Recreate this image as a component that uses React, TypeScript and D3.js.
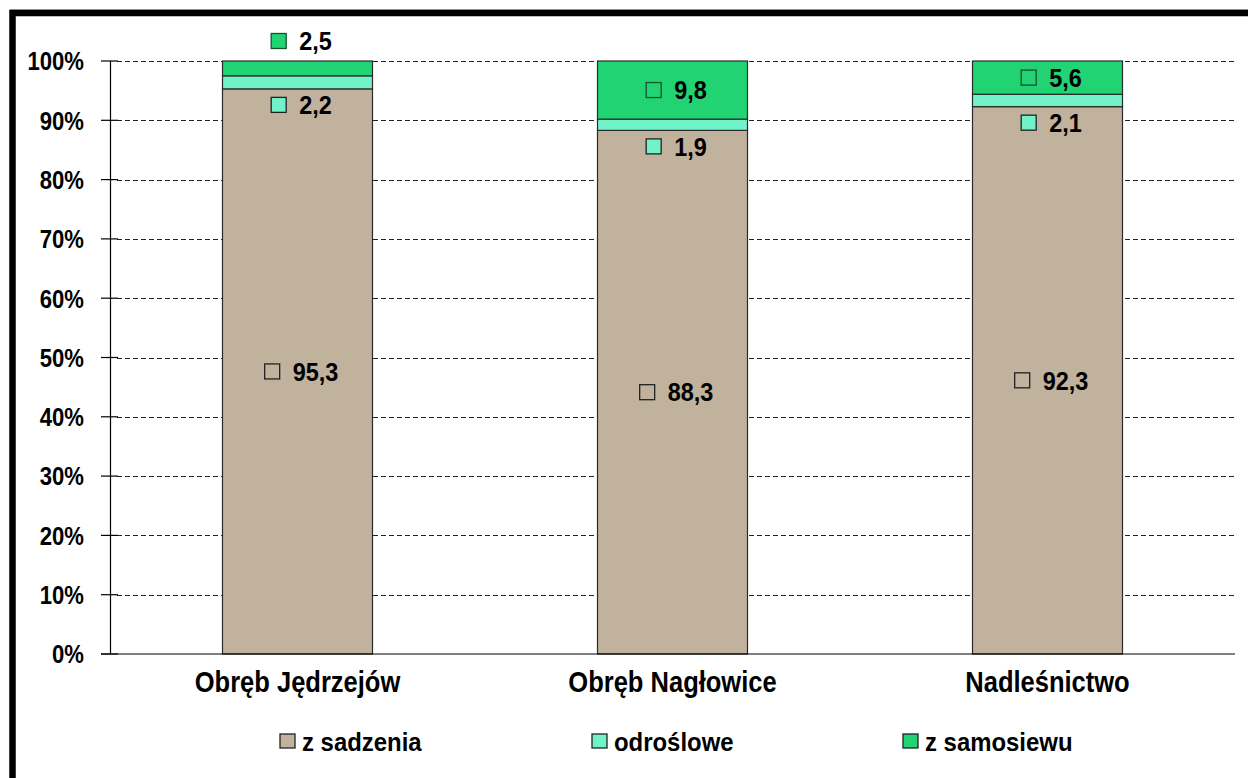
import React, { useEffect, useRef } from "react";
import * as d3 from "d3";

const categories = ["Obręb Jędrzejów", "Obręb Nagłowice", "Nadleśnictwo"];
const seriesNames = ["z sadzenia", "odroślowe", "z samosiewu"];
const zSadzenia = [95.3, 88.3, 92.3];
const odroslowe = [2.2, 1.9, 2.1];
const zSamosiewu = [2.5, 9.8, 5.6];
const yTicks = [0, 10, 20, 30, 40, 50, 60, 70, 80, 90, 100];
const colors = ["#C0B29C", "#72F2C9", "#22D373"];

const FONT = "'Liberation Sans', Arial, Helvetica, sans-serif";

export default function App() {
  const svgRef = useRef<SVGSVGElement | null>(null);

  useEffect(() => {
    if (!svgRef.current) return;
    const svg = d3.select(svgRef.current);
    svg.selectAll("*").remove();

    const width = 1248;
    const height = 778;

    const x = d3
      .scaleBand<string>()
      .domain(categories)
      .range([110, 1235])
      .paddingInner(0.6)
      .paddingOuter(0.3);
    const y = d3.scaleLinear().domain([0, 100]).range([654, 61]);

    const rows = categories.map((c, i) => ({
      cat: c,
      [seriesNames[0]]: zSadzenia[i],
      [seriesNames[1]]: odroslowe[i],
      [seriesNames[2]]: zSamosiewu[i],
    }));
    const stack = d3.stack<any>().keys(seriesNames);
    const layers = stack(rows);

    // condensed-looking bold text: scaled horizontally around its anchor
    const label = (
      parent: d3.Selection<any, any, any, any>,
      tx: number,
      ty: number,
      txt: string,
      size: number,
      sx: number,
      anchor = "start"
    ) =>
      parent
        .append("text")
        .attr("transform", `translate(${tx},${ty}) scale(${sx},1)`)
        .attr("text-anchor", anchor)
        .attr("font-family", FONT)
        .attr("font-weight", "bold")
        .attr("font-size", size)
        .attr("fill", "#000")
        .text(txt);

    svg.append("rect").attr("width", width).attr("height", height).attr("fill", "#fff");

    // grid lines
    svg
      .append("g")
      .selectAll("line")
      .data(yTicks.filter((t) => t > 0))
      .join("line")
      .attr("x1", 117)
      .attr("x2", 1235)
      .attr("y1", (d) => Math.round(y(d)) + 0.5)
      .attr("y2", (d) => Math.round(y(d)) + 0.5)
      .attr("stroke", "#222")
      .attr("stroke-width", 1)
      .attr("stroke-dasharray", "5,3");

    // bars
    layers.forEach((layer, li) => {
      svg
        .append("g")
        .selectAll("rect")
        .data(layer)
        .join("rect")
        .attr("x", (d) => x(d.data.cat)!)
        .attr("width", x.bandwidth())
        .attr("y", (d) => y(d[1]))
        .attr("height", (d) => y(d[0]) - y(d[1]))
        .attr("fill", colors[li])
        .attr("stroke", "#2a2a2a")
        .attr("stroke-width", 1.2);
    });

    // axes
    const axis = svg.append("g").attr("stroke", "#000").attr("stroke-width", 1.2);
    axis.append("line").attr("x1", 110.5).attr("x2", 110.5).attr("y1", y(100)).attr("y2", y(0));
    axis.append("line").attr("x1", 101).attr("x2", 1235).attr("y1", y(0)).attr("y2", y(0));
    axis
      .selectAll("line.tick")
      .data(yTicks)
      .join("line")
      .attr("class", "tick")
      .attr("x1", 101)
      .attr("x2", 118)
      .attr("y1", (d) => y(d))
      .attr("y2", (d) => y(d));

    const yLabels = svg.append("g");
    yTicks.forEach((t) => {
      label(yLabels, 84, y(t), `${t}%`, 26, 0.85, "end").attr("dy", "0.36em");
    });

    const xLabels = svg.append("g");
    categories.forEach((c) => {
      label(xLabels, x(c)! + x.bandwidth() / 2, 692, c, 29, 0.88, "middle");
    });

    // data labels: legend key + value
    const fmt = (v: number) => v.toFixed(1).replace(".", ",");
    const dSize = 25.5;
    const dSx = 0.92;
    layers.forEach((layer, li) => {
      layer.forEach((d) => {
        const v = d[1] - d[0];
        const top = y(d[1]);
        const bottom = y(d[0]);
        let cy = (top + bottom) / 2;
        if (li === 1) cy = bottom + 16;
        if (li === 2 && bottom - top < 25) cy = top - 20;
        const cx = x(d.data.cat)! + x.bandwidth() / 2 + 4;
        const g = svg.append("g");
        const t = label(g, 0, cy, fmt(v), dSize, dSx).attr("dy", "0.36em");
        const tw = (t.node() as SVGTextElement).getComputedTextLength() * dSx;
        const total = 15 + 13 + tw;
        const left = cx - total / 2;
        t.attr("transform", `translate(${left + 28},${cy}) scale(${dSx},1)`);
        g.append("rect")
          .attr("x", left)
          .attr("y", cy - 7.5)
          .attr("width", 15)
          .attr("height", 15)
          .attr("fill", colors[li])
          .attr("stroke", li === 2 ? "#14532d" : "#222")
          .attr("stroke-width", 1.3);
      });
    });

    // legend
    const legendX = [280, 592, 903];
    const legend = svg.append("g");
    seriesNames.forEach((name, i) => {
      legend
        .append("rect")
        .attr("x", legendX[i])
        .attr("y", 734)
        .attr("width", 15)
        .attr("height", 14)
        .attr("fill", colors[i])
        .attr("stroke", "#222")
        .attr("stroke-width", 1.3);
      label(legend, legendX[i] + 22, 751, name, 26, 0.92);
    });

    // outer frame
    svg.append("line").attr("x1", 10).attr("x2", width).attr("y1", 9.5).attr("y2", 9.5).attr("stroke", "#bbb");
    svg
      .append("rect")
      .attr("x", 12.5)
      .attr("y", 13)
      .attr("width", 1400)
      .attr("height", 1000)
      .attr("fill", "none")
      .attr("stroke", "#000")
      .attr("stroke-width", 6.5);
  }, []);

  return (
    <svg
      ref={svgRef}
      width={1248}
      height={778}
      style={{ position: "absolute", left: 0, top: 0, display: "block" }}
    />
  );
}
